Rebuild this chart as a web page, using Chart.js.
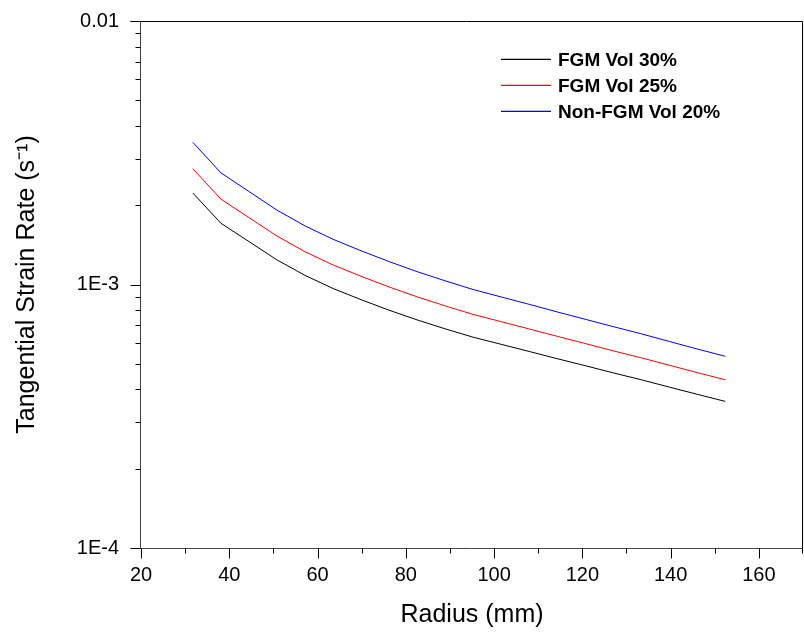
<!DOCTYPE html>
<html>
<head>
<meta charset="utf-8">
<title>Tangential Strain Rate vs Radius</title>
<script src="https://cdn.jsdelivr.net/npm/chart.js@4.4.1/dist/chart.umd.min.js"></script>
<style>
  html, body { margin: 0; padding: 0; background: #fff; }
  #chart { display: block; }
</style>
</head>
<body>
<canvas id="chart" width="804" height="633"></canvas>
<script>
// radius (mm) - quarter inch steps
var radius = [31.75, 38.1, 44.45, 50.8, 57.15, 63.5, 69.85, 76.2, 82.55, 88.9,
              95.25, 101.6, 107.95, 114.3, 120.65, 127, 133.35, 139.7, 146.05, 152.4];

// tangential strain rate (1/s)
var fgm30 = [2.224e-3, 1.708e-3, 1.456e-3, 1.240e-3, 1.083e-3, 9.66e-4, 8.76e-4, 7.99e-4, 7.34e-4, 6.79e-4,
             6.31e-4, 5.93e-4, 5.57e-4, 5.23e-4, 4.92e-4, 4.62e-4, 4.35e-4, 4.08e-4, 3.83e-4, 3.60e-4];
var fgm25 = [2.749e-3, 2.109e-3, 1.795e-3, 1.528e-3, 1.332e-3, 1.187e-3, 1.075e-3, 9.79e-4, 8.98e-4, 8.30e-4,
             7.70e-4, 7.23e-4, 6.78e-4, 6.36e-4, 5.97e-4, 5.60e-4, 5.27e-4, 4.94e-4, 4.63e-4, 4.35e-4];
var nonFgm20 = [3.463e-3, 2.653e-3, 2.255e-3, 1.916e-3, 1.669e-3, 1.485e-3, 1.343e-3, 1.222e-3, 1.119e-3, 1.033e-3,
                9.57e-4, 8.97e-4, 8.41e-4, 7.87e-4, 7.38e-4, 6.92e-4, 6.50e-4, 6.08e-4, 5.69e-4, 5.34e-4];

var seriesNames = ['FGM Vol 30%', 'FGM Vol 25%', 'Non-FGM Vol 20%'];
var seriesColors = ['#000000', '#ff0000', '#0000ff'];

var xTicks = [20, 40, 60, 80, 100, 120, 140, 160];
var xMinorTicks = [30, 50, 70, 90, 110, 130, 150, 170];
var yTicks = [1e-4, 1e-3, 1e-2];
var yTickLabels = ['1E-4', '1E-3', '0.01'];

var FONT = "'Liberation Sans', Arial, Helvetica, sans-serif";

function points(ys) {
  return radius.map(function (r, i) { return { x: r, y: ys[i] }; });
}

// frame + tick marks (major long, minor short, outward)
var frameTicks = {
  id: 'frameTicks',
  afterDraw: function (chart) {
    var ctx = chart.ctx, a = chart.chartArea;
    var xs = chart.scales.x, ys = chart.scales.y;
    var L = Math.round(a.left) - 0.5, R = Math.round(a.right) - 0.5;
    var T = Math.round(a.top) + 0.5, B = Math.round(a.bottom) + 0.5;
    ctx.save();
    ctx.lineWidth = 1;
    ctx.strokeStyle = '#000';
    ctx.beginPath();
    ctx.moveTo(L - 10, T); ctx.lineTo(R, T); ctx.lineTo(R, B);
    ctx.stroke();
    ctx.strokeStyle = '#444';
    ctx.beginPath();
    ctx.moveTo(L, T); ctx.lineTo(L, B); ctx.lineTo(R, B);
    ctx.stroke();

    ctx.strokeStyle = '#000';
    ctx.beginPath();
    xTicks.forEach(function (v) {
      var px = Math.round(xs.getPixelForValue(v)) + 0.5;
      ctx.moveTo(px, B); ctx.lineTo(px, B + 10);
    });
    xMinorTicks.forEach(function (v) {
      var px = Math.round(xs.getPixelForValue(v)) + 0.5;
      if (v === 170) px = R;
      ctx.moveTo(px, B); ctx.lineTo(px, B + 5);
    });
    yTicks.forEach(function (v) {
      var py = Math.round(ys.getPixelForValue(v)) + 0.5;
      ctx.moveTo(L, py); ctx.lineTo(L - 10, py);
    });
    [1e-4, 1e-3].forEach(function (d) {
      for (var m = 2; m <= 9; m++) {
        var py = Math.round(ys.getPixelForValue(m * d)) + 0.5;
        ctx.moveTo(L, py); ctx.lineTo(L - 5, py);
      }
    });
    ctx.stroke();
    ctx.restore();
  }
};

// legend drawn inside the plot, top right
var lineLegend = {
  id: 'lineLegend',
  afterDraw: function (chart) {
    var ctx = chart.ctx, a = chart.chartArea;
    var x0 = Math.round(a.left + 360), y0 = Math.round(a.top + 38), step = 26;
    ctx.save();
    ctx.font = 'bold 19px ' + FONT;
    ctx.textBaseline = 'alphabetic';
    ctx.textAlign = 'left';
    ctx.lineWidth = 1.2;
    for (var i = 0; i < seriesNames.length; i++) {
      var y = y0 + i * step;
      ctx.strokeStyle = seriesColors[i];
      ctx.beginPath();
      ctx.moveTo(x0, y + 0.3);
      ctx.lineTo(x0 + 50, y + 0.3);
      ctx.stroke();
      ctx.fillStyle = '#000';
      ctx.fillText(seriesNames[i], x0 + 57, y + 7);
    }
    ctx.restore();
  }
};

new Chart(document.getElementById('chart'), {
  type: 'line',
  data: {
    datasets: [
      { label: seriesNames[0], data: points(fgm30), borderColor: seriesColors[0] },
      { label: seriesNames[1], data: points(fgm25), borderColor: seriesColors[1] },
      { label: seriesNames[2], data: points(nonFgm20), borderColor: seriesColors[2] }
    ]
  },
  options: {
    responsive: false,
    animation: false,
    events: [],
    layout: { padding: { top: 21, right: 1, left: 0, bottom: 0 } },
    elements: {
      line: { borderWidth: 1, tension: 0, fill: false },
      point: { radius: 0 }
    },
    plugins: {
      legend: { display: false },
      tooltip: { enabled: false }
    },
    scales: {
      x: {
        type: 'linear',
        min: 20,
        max: 170,
        grid: { display: false, drawTicks: false },
        border: { display: false },
        afterBuildTicks: function (scale) {
          scale.ticks = xTicks.map(function (v) { return { value: v }; });
        },
        afterFit: function (scale) {
          scale.height = 85;
          scale.paddingLeft = 0;
          scale.paddingRight = 0;
        },
        ticks: {
          padding: 15,
          color: '#000',
          maxRotation: 0,
          font: { family: FONT, size: 20 }
        },
        title: {
          display: true,
          text: 'Radius (mm)',
          color: '#000',
          padding: { top: 0, bottom: 3 },
          font: { family: FONT, size: 25 }
        }
      },
      y: {
        type: 'logarithmic',
        min: 1e-4,
        max: 1e-2,
        grid: { display: false, drawTicks: false },
        border: { display: false },
        afterBuildTicks: function (scale) {
          scale.ticks = yTicks.map(function (v) { return { value: v }; });
        },
        afterFit: function (scale) {
          scale.width = 141;
          scale.paddingTop = 0;
          scale.paddingBottom = 0;
        },
        ticks: {
          padding: 22,
          color: '#000',
          font: { family: FONT, size: 20 },
          callback: function (value, index) { return yTickLabels[index]; }
        },
        title: {
          display: true,
          text: 'Tangential Strain Rate (s\u207B\u00B9)',
          color: '#000',
          padding: { top: 12, bottom: 0 },
          font: { family: FONT, size: 25 }
        }
      }
    }
  },
  plugins: [frameTicks, lineLegend]
});
</script>
</body>
</html>
